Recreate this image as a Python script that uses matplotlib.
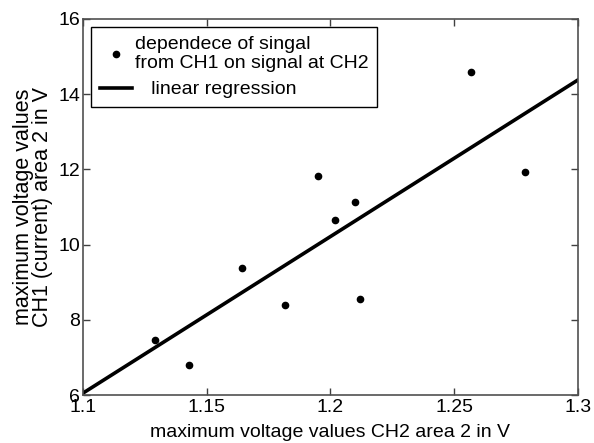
import numpy as np
import matplotlib
matplotlib.use("Agg")
import matplotlib.pyplot as plt

# measured points: CH2 maximum (x) vs CH1 maximum (y)
ch2_max = [1.1292, 1.1427, 1.1641, 1.1816, 1.1951, 1.2017, 1.2099, 1.2118, 1.2569, 1.2784]
ch1_max = [7.46, 6.80, 9.39, 8.39, 11.83, 10.66, 11.14, 8.56, 14.58, 11.92]

# regression line end points
reg_x = [1.1, 1.3]
reg_y = [6.05, 14.38]

x_ticks = [1.1, 1.15, 1.2, 1.25, 1.3]
x_tick_labels = ["1.1", "1.15", "1.2", "1.25", "1.3"]
y_ticks = [6, 8, 10, 12, 14, 16]

plt.rcParams["font.family"] = ["Liberation Sans", "DejaVu Sans"]

fig = plt.figure(figsize=(5.94, 4.43), dpi=100)
ax = fig.add_axes([83 / 594, 1 - 395 / 443, (578 - 83) / 594, (395 - 19) / 443])

ax.plot(ch2_max, ch1_max, "o", color="black", markersize=4.5,
        label="dependece of singal\nfrom CH1 on signal at CH2")
ax.plot(reg_x, reg_y, "-", color="black", linewidth=2.6,
        label="   linear regression")

ax.set_xlim(1.1, 1.3)
ax.set_ylim(6, 16)
ax.set_xticks(x_ticks)
ax.set_xticklabels(x_tick_labels)
ax.set_yticks(y_ticks)
ax.tick_params(direction="in", top=True, right=True, length=5, width=1,
               labelsize=14, colors="#404040", labelcolor="black")
ax.tick_params(axis="x", pad=3)
ax.tick_params(axis="y", pad=2)
for s in ax.spines.values():
    s.set_color("#505050")
    s.set_linewidth(1.2)

ax.set_xlabel("maximum voltage values CH2 area 2 in V", fontsize=14, labelpad=5.5)
ax.set_ylabel("maximum voltage values\nCH1 (current) area 2 in V", fontsize=15.5,
              labelpad=4, linespacing=0.85)

leg = ax.legend(loc="upper left", fontsize=14, frameon=True, fancybox=False,
                framealpha=1, edgecolor="black", borderaxespad=0.4,
                handlelength=1.65, handletextpad=0.15, borderpad=0.45,
                labelspacing=0.45)
leg.get_frame().set_linewidth(1.0)

fig.savefig("out.png", dpi=100)
